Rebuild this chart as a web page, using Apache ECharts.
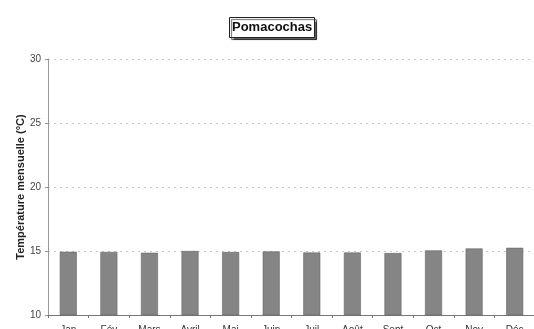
<!DOCTYPE html>
<html>
<head>
<meta charset="utf-8">
<script src="https://cdn.jsdelivr.net/npm/echarts@6/dist/echarts.min.js"></script>
<style>
  html, body { margin: 0; padding: 0; background: #fff; }
  #chart { width: 534px; height: 329px; }
</style>
</head>
<body>
<div id="chart"></div>
<script>
// Mean monthly temperature at Pomacochas
const months = ['Jan', 'Fév', 'Mars', 'Avril', 'Mai', 'Juin', 'Juil', 'Août', 'Sept', 'Oct', 'Nov', 'Déc'];
const temperatures = [14.94, 14.93, 14.86, 15.0, 14.92, 14.97, 14.88, 14.88, 14.84, 15.05, 15.2, 15.25];
const yTicks = [10, 15, 20, 25, 30];

const chart = echarts.init(document.getElementById('chart'));
chart.setOption({
  animation: false,
  backgroundColor: '#fff',
  title: {
    text: 'Pomacochas',
    left: 229,
    top: 17,
    padding: [4, 3, 4, 3],
    borderColor: '#222',
    borderWidth: 1,
    backgroundColor: '#fff',
    shadowColor: 'rgba(0,0,0,0.6)',
    shadowOffsetX: 2,
    shadowOffsetY: 2,
    shadowBlur: 1,
    textStyle: { fontFamily: 'Liberation Sans, Arial', fontWeight: 'bold', fontSize: 13, color: '#111' }
  },
  grid: { left: 48, right: -1, top: 59, bottom: 14, containLabel: false, outerBoundsMode: 'none' },
  xAxis: {
    type: 'category',
    data: months,
    axisLine: { lineStyle: { color: '#777', width: 1 } },
    axisTick: { show: true, length: 3, lineStyle: { color: '#777' } },
    axisLabel: { fontFamily: 'Liberation Sans, Arial', fontSize: 10, color: '#333', margin: 10 },
    splitLine: { show: false }
  },
  yAxis: {
    type: 'value',
    min: yTicks[0],
    max: yTicks[yTicks.length - 1],
    interval: 5,
    name: 'Température mensuelle (°C)',
    nameLocation: 'middle',
    nameGap: 22,
    nameMoveOverlap: false,
    nameTextStyle: { fontFamily: 'Liberation Sans, Arial', fontWeight: 'bold', fontSize: 11, color: '#222' },
    axisLine: { show: true, lineStyle: { color: '#999', width: 1 } },
    axisTick: { show: true, length: 3, lineStyle: { color: '#999' } },
    axisLabel: { fontFamily: 'Liberation Sans, Arial', fontSize: 10, color: '#444', margin: 7 },
    splitLine: { show: true, lineStyle: { color: '#c8c8c8', type: [2, 4], width: 1 } }
  },
  series: [{
    type: 'bar',
    data: temperatures,
    barWidth: 17,
    itemStyle: {
      color: '#858585',
      borderColor: '#666',
      borderWidth: 0.6
    }
  }]
});
</script>
</body>
</html>
